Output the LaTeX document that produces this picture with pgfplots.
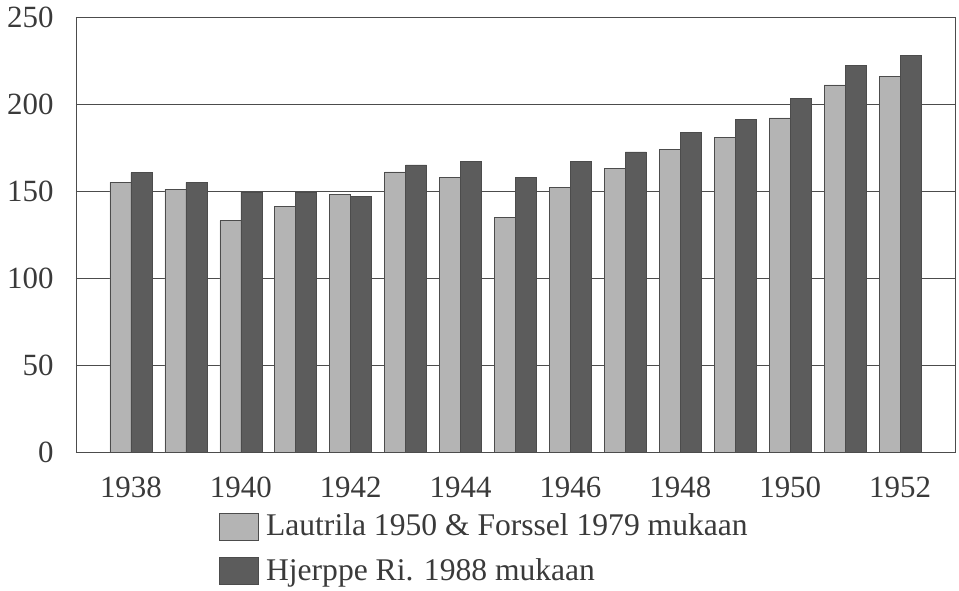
\documentclass[border=0pt]{standalone}
\usepackage{pgfplots}
\pgfplotsset{compat=1.18}
\usepackage{fontspec}
\setmainfont{Liberation Serif}
\definecolor{lightbar}{HTML}{B4B4B4}
\definecolor{darkbar}{HTML}{5C5C5C}
\definecolor{edge}{HTML}{4C4C4C}
\definecolor{txt}{HTML}{3A3A3A}
\begin{document}
\fontsize{31}{37}\selectfont
\begin{tikzpicture}
\begin{axis}[
  at={(0,0)}, anchor=south west,
  scale only axis,
  width=879bp, height=435bp,
  ybar=0pt, bar width=21bp,
  xmin=1937, xmax=1953,
  ymin=0, ymax=250,
  xtick={1938,1940,...,1952},
  ytick={0,50,...,250},
  major tick length=0pt,
  ymajorgrids,
  grid style={edge, line width=0.8bp},
  axis line style={edge, line width=0.8bp},
  /pgf/number format/assume math mode=true,
  /pgf/number format/1000 sep={},
  tick label style={font=\fontsize{31}{37}\selectfont, text=txt},
  xticklabel style={anchor=north, text height=21bp, text depth=0pt, yshift=-14bp},
  yticklabel style={xshift=-12bp},
  legend style={draw=none, fill=none, at={(axis description cs:0.1585,-0.132)}, anchor=north west,
    font=\fontsize{31.7}{38}\selectfont, text=txt, row sep=14bp,
    legend cell align=left, nodes={inner sep=2bp}},
  legend image code/.code={\draw[#1] (0bp,-13bp) rectangle (39bp,14bp); \path (45bp,0bp);},
]
\addplot[fill=lightbar, draw=edge, line width=0.6bp] coordinates {
(1938,155) (1939,151) (1940,133) (1941,141) (1942,148) (1943,161) (1944,158)
(1945,135) (1946,152) (1947,163) (1948,174) (1949,181) (1950,192) (1951,211) (1952,216)};
\addplot[fill=darkbar, draw=edge, line width=0.6bp] coordinates {
(1938,160.5) (1939,155) (1940,149.5) (1941,149.5) (1942,147) (1943,165) (1944,167)
(1945,158) (1946,167) (1947,172.5) (1948,183.5) (1949,191) (1950,203) (1951,222) (1952,228)};
\legend{Lautrila 1950 \& Forssel 1979 mukaan, Hjerppe Ri. 1988 mukaan}
\end{axis}
\pgfresetboundingbox
\path (-76bp,-139bp) rectangle (883bp,452bp);
\end{tikzpicture}
\end{document}
